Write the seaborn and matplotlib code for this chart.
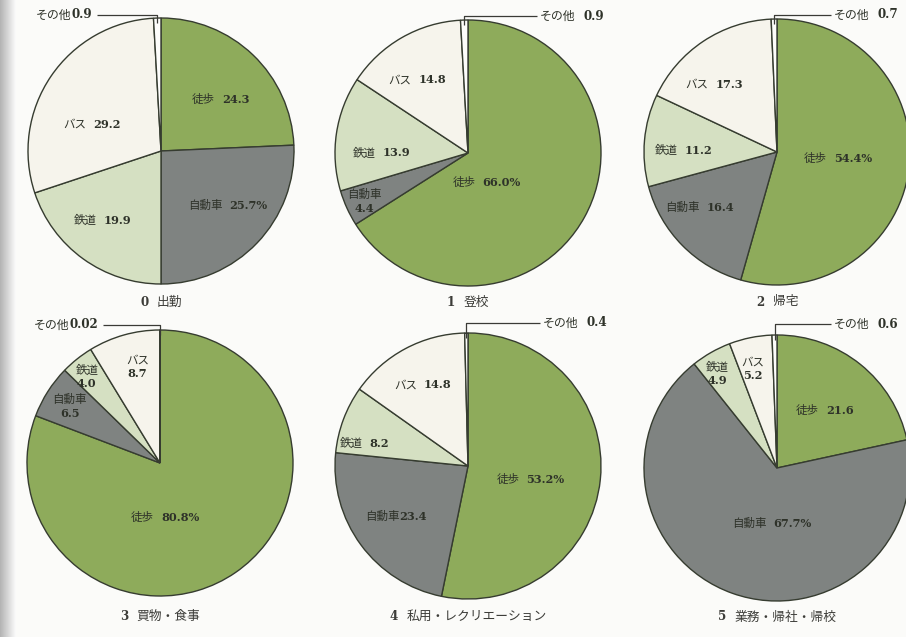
import numpy as np
import matplotlib
matplotlib.use('Agg')
import matplotlib.pyplot as plt
from matplotlib.offsetbox import TextArea, HPacker, VPacker, AnnotationBbox
import seaborn as sns

# ---------------- data ----------------
modes = ['徒歩', '自動車', '鉄道', 'バス', 'その他']
title_nums = ['0', '1', '2', '3', '4', '5']
title_names = ['出勤', '登校', '帰宅', '買物・食事', '私用・レクリエーション', '業務・帰社・帰校']
walk = [24.3, 66.0, 54.4, 80.8, 53.2, 21.6]
car = [25.7, 4.4, 16.4, 6.5, 23.4, 67.7]
rail = [19.9, 13.9, 11.2, 4.0, 8.2, 4.9]
bus = [29.2, 14.8, 17.3, 8.7, 14.8, 5.2]
other = [0.9, 0.9, 0.7, 0.02, 0.4, 0.6]
pct_mode = [1, 0, 0, 0, 0, 1]          # slice whose label carries "%"

# ---------------- layout / style ----------------
W, H = 906, 637
R = 133
centers = [(161, 151), (468, 153), (777, 152), (160, 463), (468, 466), (777, 468)]
title_y = [302, 302, 302, 616, 616, 617]
colors = ['#8eab5b', '#7f8381', '#d5e0c2', '#f6f4ec', '#fdfdfb']
edge = '#363c30'
txt_col = '#2e3229'

# label layout: 'h' = name and value on one line (gap in pt), 'v' = stacked
label_mode = [
    [('h', 5), ('h', 5), ('h', 5), ('h', 5)],
    [('h', 5), ('v', 0), ('h', 5), ('h', 5)],
    [('h', 5), ('h', 5), ('h', 5), ('h', 5)],
    [('h', 5), ('v', 0), ('v', 0), ('v', 0)],
    [('h', 5), ('h', 0), ('h', 5), ('h', 5)],
    [('h', 5), ('h', 5), ('v', 0), ('v', 0)],
]
# label centres relative to pie centre, in radius units (y up)
lab_off = [
    [(0.45, 0.39), (0.50, -0.41), (-0.44, -0.52), (-0.52, 0.20)],
    [(0.14, -0.22), (-0.78, -0.36), (-0.65, 0.00), (-0.38, 0.55)],
    [(0.46, -0.05), (-0.58, -0.42), (-0.70, 0.01), (-0.47, 0.51)],
    [(0.04, -0.41), (-0.68, 0.43), (-0.55, 0.65), (-0.17, 0.73)],
    [(0.47, -0.10), (-0.54, -0.38), (-0.78, 0.17), (-0.34, 0.61)],
    [(0.36, 0.43), (-0.04, -0.42), (-0.45, 0.71), (-0.18, 0.75)],
]
other_y = [15, 16, 15, 325, 323, 324]
other_dx = [-64, 69, 54, -57, 72, 54]

sns.set_theme(style='white')
fam = ['DejaVu Serif', 'Noto Sans CJK JP']
plt.rcParams['font.family'] = fam

fig = plt.figure(figsize=(W / 100, H / 100), dpi=100, facecolor='#fbfbf9')
ax = fig.add_axes([0, 0, 1, 1])
ax.set_facecolor('#fbfbf9')

# binding shadow on the left edge
grad = np.linspace(0.70, 0.985, 64).reshape(1, -1)
ax.imshow(grad, extent=(0, 16, 0, H), cmap='gray', vmin=0, vmax=1,
          aspect='auto', zorder=0)


def fmt(v):
    return f'{v:.2f}' if v < 0.1 else f'{v:.1f}'


def name_num_box(name, num, mode, gap, size_name, size_num, color=txt_col):
    t1 = TextArea(name, textprops=dict(family=['Noto Sans CJK JP'], size=size_name,
                                       color=color))
    t2 = TextArea(num, textprops=dict(family=['DejaVu Serif'], weight='bold',
                                      size=size_num, color=color))
    if mode == 'v':
        return VPacker(children=[t1, t2], align='center', pad=0, sep=1.0)
    return HPacker(children=[t1, t2], align='baseline', pad=0, sep=gap)


def num_name_box(num, name, gap, size_num, size_name, color):
    t1 = TextArea(num, textprops=dict(family=['DejaVu Serif'], weight='bold',
                                      size=size_num, color=color))
    t2 = TextArea(name, textprops=dict(family=['Noto Sans CJK JP'], size=size_name,
                                       color=color))
    return HPacker(children=[t1, t2], align='baseline', pad=0, sep=gap)


def place(box, xy, align, z=6):
    ab = AnnotationBbox(box, xy, xycoords='data', frameon=False,
                        box_alignment=align, pad=0, zorder=z)
    ax.add_artist(ab)


for i in range(6):
    cx, cy_img = centers[i]
    cy = H - cy_img
    vals = [walk[i], car[i], rail[i], bus[i], other[i]]
    ax.pie(vals, colors=colors, startangle=90, counterclock=False,
           center=(cx, cy), radius=R, frame=True,
           wedgeprops=dict(edgecolor=edge, linewidth=1.0))

    # slice labels
    for k in range(4):
        num = fmt(vals[k]) + ('%' if pct_mode[i] == k else '')
        mode, gap = label_mode[i][k]
        dx, dy = lab_off[i][k]
        place(name_num_box(modes[k], num, mode, gap, 8.3, 8.2),
              (cx + dx * R, cy + dy * R), (0.5, 0.5), z=5)

    # "その他" leader line and label
    ang = np.deg2rad(90 + 1.8 * other[i])
    tx = cx + 0.99 * R * np.cos(ang)
    ty = cy + 0.96 * R * np.sin(ang)
    ly = H - other_y[i]
    ex = cx + other_dx[i]
    ax.plot([tx, tx, ex], [ty, ly, ly], color='#3a3a36', lw=0.9,
            solid_capstyle='butt', zorder=6)
    if other_dx[i] < 0:
        place(name_num_box(modes[4], fmt(other[i]), 'h', 0, 8.6, 8.6),
              (ex - 5, ly), (1.0, 0.5))
    else:
        place(name_num_box(modes[4], fmt(other[i]), 'h', 6, 8.6, 8.6),
              (ex + 3, ly), (0.0, 0.5))

    # chart title
    place(num_name_box(title_nums[i], title_names[i], 6, 8.6, 9.2, '#3c3c38'),
          (cx, H - title_y[i]), (0.5, 0.5))

ax.set_xlim(0, W)
ax.set_ylim(0, H)
ax.set_aspect('auto')
ax.axis('off')
fig.savefig('out.png', dpi=100, facecolor=fig.get_facecolor())
